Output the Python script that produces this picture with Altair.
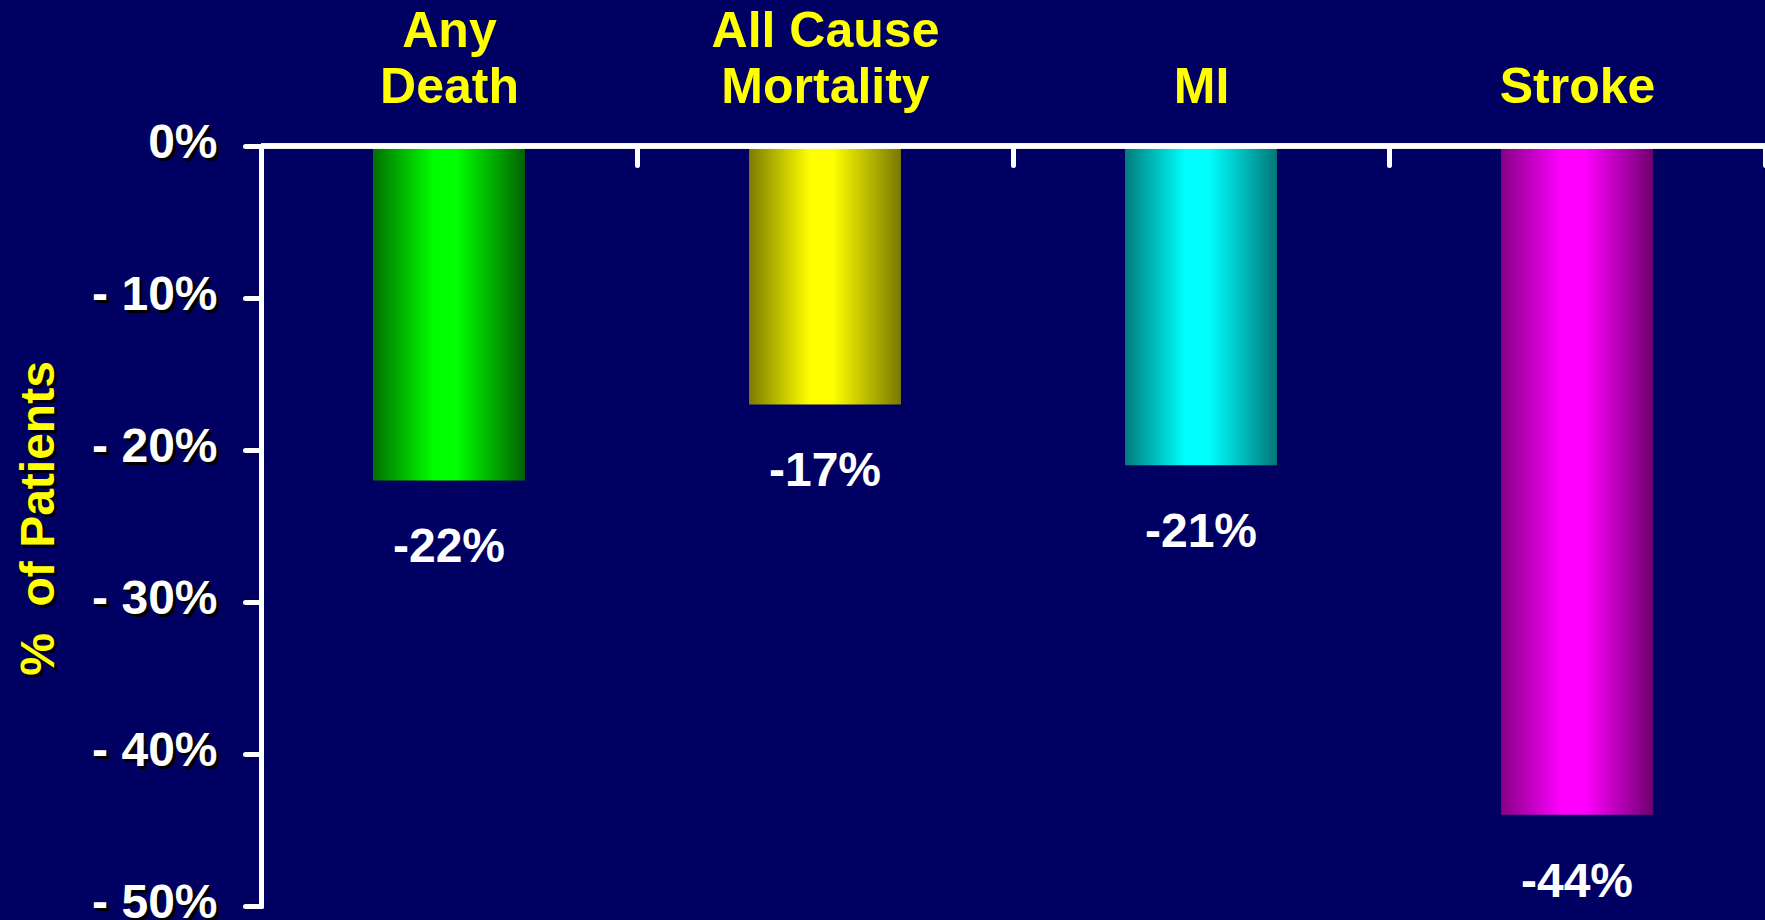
import altair as alt
import pandas as pd

# Relative change in event rates per outcome
categories = ["Any\nDeath", "All Cause\nMortality", "MI", "Stroke"]
values = [-22, -17, -21, -44]
y_ticks = [0, -10, -20, -30, -40, -50]

# Cylinder-style shading for each bar: dark edge, bright core, dark edge
edge_left = ["#007000", "#7C7C00", "#007C7C", "#860086"]
core = ["#00FF00", "#FFFF00", "#00FFFF", "#FF00FF"]
edge_right = ["#006400", "#787800", "#007676", "#700070"]

FONT = "Liberation Sans, Arial, Helvetica, sans-serif"
BG = "#000063"
YELLOW = "#FFFF00"

PLOT_W, PLOT_H = 1504, 760
STEP = PLOT_W / len(categories)

df = pd.DataFrame({
    "category": categories,
    "value": values,
    "label": [f"{v}%" for v in values],
})

# Category names sit on a common bottom line; one-line names get an empty first line
cat_label_expr = (
    "length(split(datum.label, '\\n')) == 1"
    " ? ['', datum.label] : split(datum.label, '\\n')"
)

x_enc = alt.X(
    "category:N",
    scale=alt.Scale(domain=categories, paddingInner=0.596, paddingOuter=0.298),
    axis=alt.Axis(
        orient="top", offset=-19, domain=False, grid=False,
        ticks=True, tickSize=19, tickWidth=5, tickColor="white",
        tickCap="round", tickOffset=STEP / 2,
        labelAngle=0, labelFont=FONT, labelFontSize=50, labelFontWeight="bold",
        labelColor=YELLOW, labelPadding=90, labelLineHeight=56,
        labelOffset=-STEP / 2, labelLimit=0, labelOverlap=False,
        labelExpr=cat_label_expr, title=None,
    ),
)

y_scale = alt.Scale(domain=[-50, 0], nice=False, zero=False)
tick_label_expr = "datum.value == 0 ? '0%' : '- ' + abs(datum.value) + '%'"
title_text = "%\u00a0 of Patients"

common_axis = dict(
    orient="left", values=y_ticks, grid=False,
    tickSize=16, tickWidth=5, tickCap="round",
    labelFont=FONT, labelFontSize=48, labelFontWeight="bold",
    labelExpr=tick_label_expr,
    title=title_text, titleFont=FONT, titleFontSize=48, titleFontWeight="bold",
    titleAngle=270, titleAlign="center", titleBaseline="middle",
)

# Drop-shadow copy of the value axis (labels and title only)
y_shadow = alt.Y(
    "value:Q", scale=y_scale,
    axis=alt.Axis(
        **common_axis, domain=False, ticks=True, tickColor="black", tickOpacity=0,
        labelColor="black", labelPadding=25, labelOffset=0,
        titleColor="black", titleX=-219, titleY=375,
    ),
)

y_main = alt.Y(
    "value:Q", scale=y_scale,
    axis=alt.Axis(
        **common_axis, domain=True, domainColor="white", domainWidth=5,
        domainCap="round", ticks=True, tickColor="white",
        labelColor="white", labelPadding=28, labelOffset=-3,
        titleColor=YELLOW, titleX=-222, titleY=372,
    ),
)

y_plain = alt.Y("value:Q", scale=y_scale, axis=None)

labels_layer = alt.Chart(df).mark_text(
    color="white", font=FONT, fontSize=48, fontWeight="bold",
    align="center", baseline="middle", dy=68,
).encode(x=x_enc, y=y_shadow, text="label:N")

bar_layers = []
for i, cat in enumerate(categories):
    fill = alt.Gradient(
        gradient="linear", x1=0, x2=1, y1=0, y2=0,
        stops=[
            alt.GradientStop(offset=0, color=edge_left[i]),
            alt.GradientStop(offset=0.4, color=core[i]),
            alt.GradientStop(offset=0.55, color=core[i]),
            alt.GradientStop(offset=1, color=edge_right[i]),
        ],
    )
    bar_layers.append(
        alt.Chart(df)
        .transform_filter(alt.FieldEqualPredicate(field="category", equal=cat))
        .mark_bar(fill=fill, strokeWidth=0)
        .encode(x=x_enc, y=y_main if i == 0 else y_plain)
    )

zero_line = alt.Chart(df).mark_rule(color="white", strokeWidth=5).encode(
    y=alt.YDatum(0, axis=None, scale=y_scale)
)

chart = (
    alt.layer(labels_layer, *bar_layers, zero_line)
    .resolve_axis(y="independent")
    .properties(
        width=PLOT_W, height=PLOT_H,
        padding={"left": 261, "top": 146, "right": 0, "bottom": 14},
        autosize=alt.AutoSizeParams(type="none"),
    )
    .configure(background=BG)
    .configure_view(stroke=None)
)

chart.save("out.html", embed_options={"renderer": "svg", "actions": False})
